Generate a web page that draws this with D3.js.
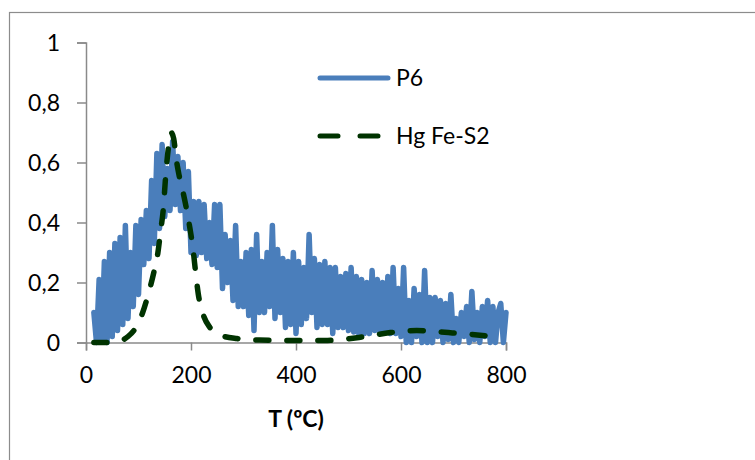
<!DOCTYPE html>
<html>
<head>
<meta charset="utf-8">
<script src="https://cdn.jsdelivr.net/npm/d3@7/dist/d3.min.js"></script>
<style>
  html, body { margin: 0; padding: 0; background: #fff; }
  svg { display: block; }
  text { font-family: Lato, "Open Sans", "DejaVu Sans", sans-serif; fill: #000; }
</style>
</head>
<body>
<svg id="chart" width="755" height="460"></svg>
<script>
// Temperature grid of the P6 signal (ºC)
const p6Temp = [
  15, 20, 25, 30, 35, 40, 45, 50, 55, 60,
  65, 70, 75, 80, 85, 90, 95, 100, 105, 110,
  115, 120, 125, 130, 135, 140, 145, 150, 155, 160,
  165, 170, 175, 180, 185, 190, 195, 200, 205, 210,
  215, 220, 225, 230, 235, 240, 245, 250, 255, 260,
  265, 270, 275, 280, 285, 290, 295, 300, 305, 310,
  315, 320, 325, 330, 335, 340, 345, 350, 355, 360,
  365, 370, 375, 380, 385, 390, 395, 400, 405, 410,
  415, 420, 425, 430, 435, 440, 445, 450, 455, 460,
  465, 470, 475, 480, 485, 490, 495, 500, 505, 510,
  515, 520, 525, 530, 535, 540, 545, 550, 555, 560,
  565, 570, 575, 580, 585, 590, 595, 600, 605, 610,
  615, 620, 625, 630, 635, 640, 645, 650, 655, 660,
  665, 670, 675, 680, 685, 690, 695, 700, 705, 710,
  715, 720, 725, 730, 735, 740, 745, 750, 755, 760,
  765, 770, 775, 780, 785, 790, 795, 800
];

// P6 normalised signal
const p6Value = [
  0.10, 0.00, 0.21, 0.01, 0.27, 0.00, 0.30, 0.02, 0.33, 0.04,
  0.35, 0.06, 0.39, 0.08, 0.30, 0.12, 0.39, 0.16, 0.41, 0.26,
  0.44, 0.28, 0.54, 0.33, 0.63, 0.38, 0.66, 0.42, 0.58, 0.44,
  0.67, 0.46, 0.62, 0.44, 0.60, 0.38, 0.57, 0.30, 0.47, 0.29,
  0.47, 0.30, 0.46, 0.28, 0.40, 0.26, 0.46, 0.25, 0.46, 0.18,
  0.36, 0.20, 0.34, 0.14, 0.39, 0.12, 0.27, 0.12, 0.30, 0.09,
  0.31, 0.04, 0.36, 0.10, 0.27, 0.10, 0.30, 0.12, 0.39, 0.08,
  0.31, 0.10, 0.28, 0.05, 0.27, 0.06, 0.30, 0.03, 0.27, 0.06,
  0.25, 0.08, 0.36, 0.10, 0.28, 0.05, 0.26, 0.06, 0.27, 0.06,
  0.25, 0.03, 0.25, 0.05, 0.22, 0.05, 0.23, 0.04, 0.25, 0.035,
  0.22, 0.02, 0.21, 0.03, 0.20, 0.03, 0.24, 0.04, 0.21, 0.035,
  0.20, 0.04, 0.22, 0.03, 0.25, 0.03, 0.18, 0.02, 0.25, 0.00,
  0.14, 0.00, 0.18, 0.02, 0.16, 0.00, 0.24, 0.00, 0.15, 0.00,
  0.15, 0.02, 0.14, 0.00, 0.13, 0.01, 0.16, 0.00, 0.08, 0.00,
  0.10, 0.02, 0.12, 0.00, 0.17, 0.01, 0.10, 0.00, 0.12, 0.02,
  0.14, 0.00, 0.12, 0.00, 0.10, 0.13, 0.00, 0.10
];

// Hg Fe-S2 reference curve
const hgTemp = [
  15, 40, 65, 80, 95, 108, 120, 130, 137, 142,
  147, 152, 157, 162, 167, 172, 177, 185, 192, 198,
  204, 209, 214, 222, 236, 255, 287, 330, 400, 460,
  520, 580, 630, 690, 735, 775
];
const hgValue = [
  0.000, 0.000, 0.005, 0.020, 0.050, 0.100, 0.170, 0.240, 0.300, 0.370,
  0.440, 0.560, 0.650, 0.700, 0.680, 0.610, 0.560, 0.500, 0.440, 0.380,
  0.310, 0.230, 0.160, 0.100, 0.050, 0.025, 0.013, 0.008, 0.007, 0.007,
  0.017, 0.033, 0.040, 0.033, 0.027, 0.020
];

const xTicks = [0, 200, 400, 600, 800];
const yTicks = [0, 0.2, 0.4, 0.6, 0.8, 1];
const seriesNames = ["P6", "Hg Fe-S2"];
const xTitle = "T (ºC)";

const svg = d3.select("#chart");

// outer chart frame
svg.append("rect")
  .attr("x", 9.5).attr("y", 12.5)
  .attr("width", 800).attr("height", 500)
  .attr("fill", "none").attr("stroke", "#8c8c8c").attr("stroke-width", 1.2);

const x = d3.scaleLinear().domain([0, 800]).range([86, 506]);
const y = d3.scaleLinear().domain([0, 1]).range([342.5, 42.5]);
const fmt = d => d3.format("")(d).replace(".", ",");

const axisColor = "#8a8a8a";

const yAxis = svg.append("g")
  .attr("transform", "translate(86,0)")
  .call(d3.axisLeft(y).tickValues(yTicks).tickSize(9).tickPadding(17).tickFormat(fmt));
const xAxis = svg.append("g")
  .attr("transform", "translate(0,342.5)")
  .call(d3.axisBottom(x).tickValues(xTicks).tickSize(8).tickPadding(16).tickFormat(d3.format("")));

[xAxis, yAxis].forEach(g => {
  g.select(".domain").attr("stroke", axisColor).attr("stroke-width", 1.5);
  g.selectAll(".tick line").attr("stroke", axisColor).attr("stroke-width", 1.5);
  g.selectAll(".tick text")
    .style("font-family", "Lato, 'Open Sans', sans-serif")
    .style("font-size", "23px")
    .attr("fill", "#000");
});
yAxis.selectAll(".tick text").attr("dy", "0.35em");

svg.append("text")
  .attr("x", 296).attr("y", 427)
  .attr("text-anchor", "middle")
  .style("font-size", "23px").style("font-weight", "bold")
  .text(xTitle);

const p6Data = p6Temp.map((t, i) => [t, p6Value[i]]);
const hgData = hgTemp.map((t, i) => [t, hgValue[i]]);

const p6Color = "#4a7ebb";
const hgColor = "#003300";

svg.append("path")
  .datum(p6Data)
  .attr("fill", "none")
  .attr("stroke", p6Color)
  .attr("stroke-width", 5.5)
  .attr("stroke-linejoin", "round")
  .attr("stroke-linecap", "round")
  .attr("d", d3.line().x(d => x(d[0])).y(d => y(d[1])));

svg.append("path")
  .datum(hgData)
  .attr("fill", "none")
  .attr("stroke", hgColor)
  .attr("stroke-width", 5.5)
  .attr("stroke-linecap", "round")
  .attr("stroke-dasharray", "13,18")
  .attr("d", d3.line().curve(d3.curveMonotoneX).x(d => x(d[0])).y(d => y(d[1])));

// legend
const legend = svg.append("g");
const legendRows = [
  { name: seriesNames[0], color: p6Color, dash: null, y: 78 },
  { name: seriesNames[1], color: hgColor, dash: "18,22", y: 136 }
];
legendRows.forEach(r => {
  legend.append("line")
    .attr("x1", 320).attr("x2", 388)
    .attr("y1", r.y).attr("y2", r.y)
    .attr("stroke", r.color)
    .attr("stroke-width", 5)
    .attr("stroke-linecap", "round")
    .attr("stroke-dasharray", r.dash);
  legend.append("text")
    .attr("x", 396).attr("y", r.y + 7.5)
    .style("font-size", "23px")
    .text(r.name);
});
</script>
</body>
</html>
